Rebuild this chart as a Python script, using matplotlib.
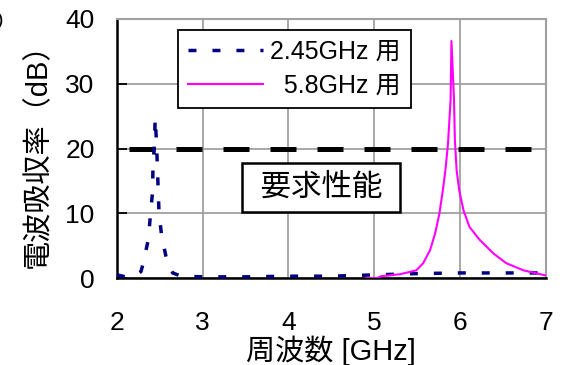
import matplotlib
matplotlib.use('Agg')
import matplotlib.pyplot as plt

plt.rcParams['font.family'] = ['Liberation Sans', 'Noto Sans CJK JP']

# 2.45GHz absorber (dB)
freq245 = [2.00, 2.10, 2.20, 2.28, 2.30, 2.365, 2.39, 2.415, 2.42, 2.44, 2.445,
           2.46, 2.47, 2.48, 2.49, 2.52, 2.58, 2.65, 2.75, 3.0, 3.5, 4.0, 4.5,
           5.0, 5.5, 6.0, 6.5, 7.0]
db245 = [0.5, 0.2, 0.3, 1.0, 2.0, 5.9, 9.7, 13.3, 17.2, 21.3, 24.7,
         21.3, 17.7, 13.9, 10.2, 6.6, 2.8, 0.8, 0.3, 0.2, 0.2, 0.3, 0.3,
         0.5, 0.7, 0.8, 0.8, 0.8]

# 5.8GHz absorber (dB)
freq58 = [4.91, 5.03, 5.08, 5.30, 5.49, 5.57, 5.65, 5.71, 5.76, 5.80, 5.83,
          5.86, 5.89, 5.90, 5.93, 5.94, 5.96, 5.99, 6.04, 6.11, 6.23, 6.39,
          6.54, 6.74, 6.97, 7.0]
db58 = [0.0, 0.0, 0.3, 0.6, 1.2, 2.3, 4.3, 6.9, 10.0, 13.6, 16.7,
        20.8, 27.5, 36.6, 27.5, 21.3, 16.7, 13.6, 10.5, 7.9, 5.9, 3.8,
        2.3, 1.2, 0.5, 0.4]

required_db = 20
required_span = [2.14, 7.0]

xticks = [2, 3, 4, 5, 6, 7]
yticks = [0, 10, 20, 30, 40]

fig = plt.figure(figsize=(5.65, 3.65), dpi=100)
ax = fig.add_axes([0.207, 0.238, 0.759, 0.710])

ax.set_xlim(2, 7)
ax.set_ylim(0, 40)
ax.set_xticks(xticks)
ax.set_yticks(yticks)
ax.grid(True, color='#a0a0a0', linewidth=1.3)
ax.set_axisbelow(True)

for side in ['top', 'right']:
    ax.spines[side].set_color('#a0a0a0')
    ax.spines[side].set_linewidth(1.5)
for side in ['left', 'bottom']:
    ax.spines[side].set_color('black')
    ax.spines[side].set_linewidth(1.8)

ax.tick_params(axis='both', direction='in', length=7, width=1.3, labelsize=19)
ax.tick_params(axis='x', pad=24, length=0)
ax.tick_params(axis='y', pad=16)

# required performance line
ax.plot(required_span, [required_db, required_db], color='black', linewidth=3.6,
        dashes=(5.2, 4.2), solid_capstyle='butt', dash_capstyle='butt', zorder=3)

l1, = ax.plot(freq245, db245, color='#000080', linewidth=2.5, dashes=(2.3, 4.6),
              dash_capstyle='butt', zorder=4, clip_on=False)
l2, = ax.plot(freq58, db58, color='#ff00ff', linewidth=1.5, zorder=5)

leg = ax.legend([l1, l2], ['2.45GHz 用', '\u20075.8GHz 用'], loc='upper left',
                bbox_to_anchor=(0.142, 0.958), fontsize=18, handlelength=3.0,
                handletextpad=0.3, borderpad=0.4, labelspacing=0.4,
                borderaxespad=0, fancybox=False, framealpha=1, edgecolor='black')
leg.get_frame().set_linewidth(1.3)

ax.text(4.38, 14.0, ' 要求性能 ', fontsize=22, ha='center', va='center',
        bbox=dict(boxstyle='square,pad=0.3', facecolor='white',
                  edgecolor='black', linewidth=1.8), zorder=6)

ax.set_xlabel('周波数 [GHz]', fontsize=21, labelpad=0)
ax.set_ylabel('電波吸収率（dB）', fontsize=21, labelpad=10)

fig.text(0.0, 0.945, ')', fontsize=14, ha='center', va='center')

fig.savefig('out.png', dpi=100)
